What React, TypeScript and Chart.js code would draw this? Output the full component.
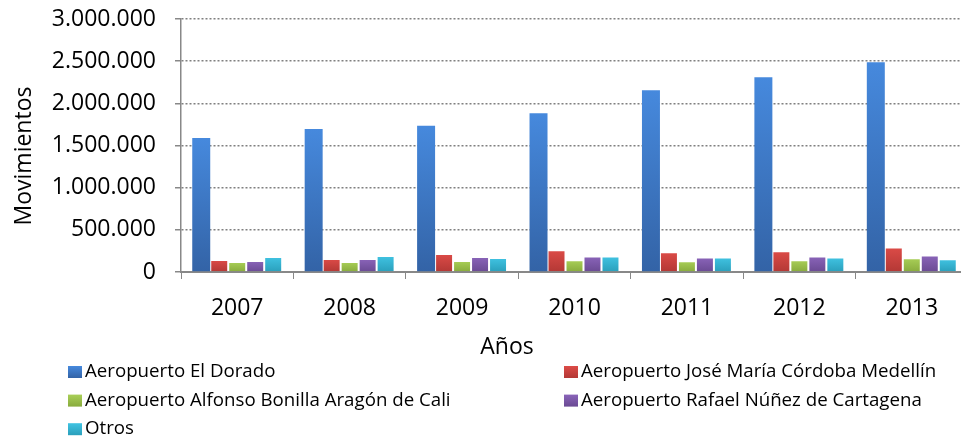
import React, { useEffect, useRef } from 'react';
import { Chart, registerables } from 'chart.js';

Chart.register(...registerables);

const years = ['2007', '2008', '2009', '2010', '2011', '2012', '2013'];

const elDorado = [1588000, 1695000, 1734000, 1882000, 2156000, 2310000, 2488000];
const medellin = [142000, 154000, 214000, 259000, 235000, 247000, 291000];
const cali = [119000, 119000, 131000, 140000, 128000, 140000, 164000];
const cartagena = [131000, 154000, 178000, 184000, 172000, 184000, 196000];
const otros = [178000, 190000, 166000, 184000, 172000, 172000, 152000];

const seriesLabels = [
  'Aeropuerto El Dorado',
  'Aeropuerto José María Córdoba Medellín',
  'Aeropuerto Alfonso Bonilla Aragón de Cali',
  'Aeropuerto Rafael Núñez de Cartagena',
  'Otros',
];

const yTicksMax = 3000000;
const yTicksStep = 500000;
const yTitle = 'Movimientos';
const xTitle = 'Años';

const lightColors = ['#4689dd', '#dc4b47', '#a9cf57', '#8a64b9', '#40c3e2'];
const darkColors = ['#3363a6', '#b33835', '#88ab3d', '#6a4a93', '#2a9fbb'];

const FONT = "'Open Sans', sans-serif";

function fmt(v: number): string {
  return String(v).replace(/\B(?=(\d{3})+(?!\d))/g, '.');
}

function barGradient(i: number) {
  return (ctx: any) => {
    const chart = ctx.chart;
    if (!chart.chartArea || ctx.type !== 'data') return darkColors[i];
    const y = chart.scales.y;
    const v = ctx.raw as number;
    const top = y.getPixelForValue(v);
    const bottom = y.getPixelForValue(0);
    if (!isFinite(top) || !isFinite(bottom) || top === bottom) return darkColors[i];
    const g = chart.ctx.createLinearGradient(0, top, 0, bottom);
    g.addColorStop(0, lightColors[i]);
    g.addColorStop(1, darkColors[i]);
    return g;
  };
}

const excelLegend = {
  id: 'excelLegend',
  afterDraw(chart: any) {
    const ctx = chart.ctx as CanvasRenderingContext2D;
    ctx.save();
    ctx.fillStyle = '#000';
    ctx.font = `23px ${FONT}`;
    ctx.textAlign = 'center';
    ctx.textBaseline = 'alphabetic';
    ctx.fillText(xTitle, 507, 354);

    // y-axis title
    ctx.save();
    ctx.translate(31, 156);
    ctx.rotate(-Math.PI / 2);
    ctx.fillText(yTitle, 0, 0);
    ctx.restore();

    ctx.font = `18.7px ${FONT}`;
    ctx.textAlign = 'left';
    chart.data.datasets.forEach((ds: any, i: number) => {
      const col = i % 2;
      const row = Math.floor(i / 2);
      const bx = col === 0 ? 68 : 564;
      const by = 366 + row * 28.6;
      const g = ctx.createLinearGradient(0, by, 0, by + 12);
      g.addColorStop(0, lightColors[i]);
      g.addColorStop(1, darkColors[i]);
      ctx.fillStyle = g;
      ctx.fillRect(bx, by, 14, 12);
      ctx.fillStyle = '#000';
      ctx.fillText(ds.label, bx + 17, by + 11);
    });
    ctx.restore();
  },
};

export default function App() {
  const ref = useRef<HTMLCanvasElement>(null);

  useEffect(() => {
    if (!ref.current) return;
    const seriesData = [elDorado, medellin, cali, cartagena, otros];
    const chart = new Chart(ref.current, {
      type: 'bar',
      data: {
        labels: years,
        datasets: seriesData.map((d, i) => ({
          label: seriesLabels[i],
          data: d,
          backgroundColor: barGradient(i),
          borderColor: '#ffffff',
          borderWidth: i === 0 ? 0 : 1,
          categoryPercentage: 0.8,
          barPercentage: 1.0,
        })),
      },
      options: {
        responsive: false,
        animation: false,
        layout: { padding: { top: 19, left: 0, right: 0, bottom: 0 } },
        plugins: {
          legend: { display: false },
          tooltip: { enabled: false },
        },
        scales: {
          x: {
            grid: {
              display: true,
              drawOnChartArea: false,
              drawTicks: true,
              tickLength: 7,
              tickColor: '#888888',
              offset: true,
            },
            border: { display: true, color: '#888888', width: 2 },
            ticks: {
              color: '#000',
              font: { family: FONT, size: 23 },
              padding: 16,
              maxRotation: 0,
            },
            afterFit: (scale: any) => {
              scale.height = 168;
              scale.paddingLeft = 0;
              scale.paddingRight = 0;
            },
          },
          y: {
            min: 0,
            max: yTicksMax,
            grid: {
              color: (c: any) => (c.tick && c.tick.value === 0 ? 'rgba(0,0,0,0)' : '#808080'),
              lineWidth: 1.5,
              drawTicks: true,
              tickLength: 6,
              tickColor: '#888888',
              tickBorderDash: [],
              borderDash: [2, 2],
            } as any,
            border: { display: true, color: '#888888', width: 1.5, dash: [2, 2] },
            ticks: {
              stepSize: yTicksStep,
              color: '#000',
              font: { family: FONT, size: 23 },
              padding: 19,
              callback: (v: any) => fmt(Number(v)),
            },
            title: { display: false },
            afterFit: (scale: any) => {
              scale.width = 181;
              scale.paddingTop = 0;
              scale.paddingBottom = 0;
            },
          },
        },
      },
      plugins: [excelLegend],
    });
    return () => chart.destroy();
  }, []);

  return (
    <div style={{ position: 'absolute', left: 0, top: 0, width: 961, height: 440, overflow: 'hidden', background: '#fff' }}>
      <canvas ref={ref} width={968} height={440} style={{ display: 'block' }} />
    </div>
  );
}
